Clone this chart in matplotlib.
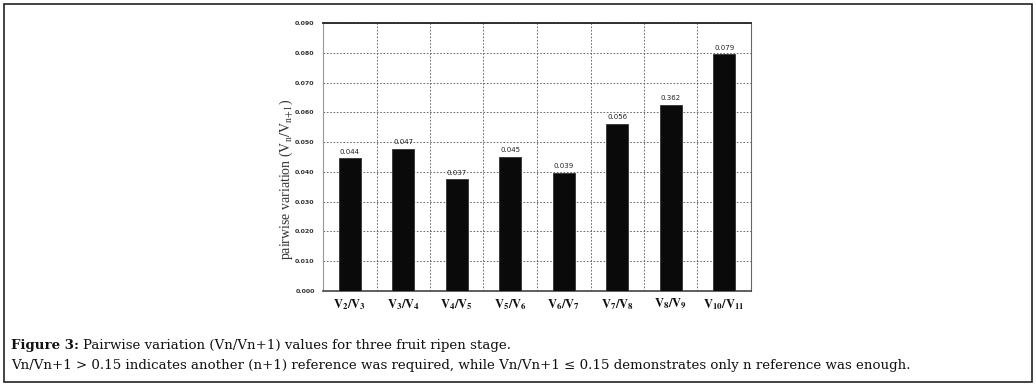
import matplotlib.pyplot as plt
from matplotlib.patches import Rectangle

categories = [r"$\mathbf{V_{2}/V_{3}}$", r"$\mathbf{V_{3}/V_{4}}$", r"$\mathbf{V_{4}/V_{5}}$",
              r"$\mathbf{V_{5}/V_{6}}$", r"$\mathbf{V_{6}/V_{7}}$", r"$\mathbf{V_{7}/V_{8}}$",
              r"$\mathbf{V_{8}/V_{9}}$", r"$\mathbf{V_{10}/V_{11}}$"]
values = [0.0446, 0.0477, 0.0375, 0.0450, 0.0397, 0.0561, 0.0625, 0.0795]
value_labels = ["0.044", "0.047", "0.037", "0.045", "0.039", "0.056", "0.362", "0.079"]
y_ticks = [0.0, 0.01, 0.02, 0.03, 0.04, 0.05, 0.06, 0.07, 0.08, 0.09]

W, H = 1036, 388
fig = plt.figure(figsize=(W / 100, H / 100), dpi=100)
plt.rcParams['mathtext.fontset'] = 'stix'

# outer frame around the figure + caption
fig.patches.append(Rectangle((4 / W, 1 - 382 / H), 1028 / W, 378 / H, transform=fig.transFigure,
                             fill=False, edgecolor='#222222', linewidth=1.2))

ax = fig.add_axes([323 / W, 1 - 291 / H, 428 / W, 268 / H])
x = [i + 0.5 for i in range(len(values))]
ax.bar(x, values, width=0.41, color='#0a0a0a', edgecolor='#333333', linewidth=0.6, zorder=3)
for xi, v, lab in zip(x, values, value_labels):
    ax.text(xi, v + 0.0012, lab, ha='center', va='bottom', fontsize=5, color='#222222',
            family='DejaVu Sans', zorder=4)

ax.set_xlim(0, 8)
ax.set_ylim(0, 0.09)
ax.set_yticks(y_ticks)
ax.set_yticklabels([f"{t:.3f}" for t in y_ticks], fontsize=4.5, fontweight='bold', color='#333333')
ax.set_xticks([1, 2, 3, 4, 5, 6, 7])
ax.set_xticklabels([])
ax.tick_params(axis='both', length=0)
ax.tick_params(axis='y', pad=6)
ax.grid(True, linestyle=(0, (2, 2)), color='#555555', linewidth=0.6, zorder=0)
for xi, lab in zip(x, categories):
    ax.text(xi, -0.0045, lab, ha='center', va='center', fontsize=9, color='#111111')

ax.spines['top'].set_color('#222222')
ax.spines['top'].set_linewidth(1.3)
ax.spines['left'].set_color('#999999')
ax.spines['right'].set_color('#666666')
ax.spines['bottom'].set_color('#444444')
ax.spines['bottom'].set_linewidth(1.2)

fig.text(286 / W, 1 - 179 / H, r"pairwise variation ($\mathrm{V_{n}/V_{n\!+\!1}}$)", rotation=90,
         ha='center', va='center', fontsize=10, family='Liberation Serif', color='#333333')

cap_fs = 9.6
head = fig.text(11 / W, 1 - 345 / H, "Figure 3:", fontsize=cap_fs, fontweight='bold',
                family='DejaVu Serif', va='center', color='#111111')
fig.canvas.draw()
bb = head.get_window_extent(renderer=fig.canvas.get_renderer())
fig.text((bb.x1 + 4) / W, 1 - 345 / H,
         "Pairwise variation (Vn/Vn+1) values for three fruit ripen stage.",
         fontsize=cap_fs, family='DejaVu Serif', va='center', color='#111111')
fig.text(11 / W, 1 - 365 / H,
         "Vn/Vn+1 > 0.15 indicates another (n+1) reference was required, while Vn/Vn+1 \u2264 0.15 "
         "demonstrates only n reference was enough.",
         fontsize=cap_fs, family='DejaVu Serif', va='center', color='#111111')

fig.savefig("out.png", dpi=100)
